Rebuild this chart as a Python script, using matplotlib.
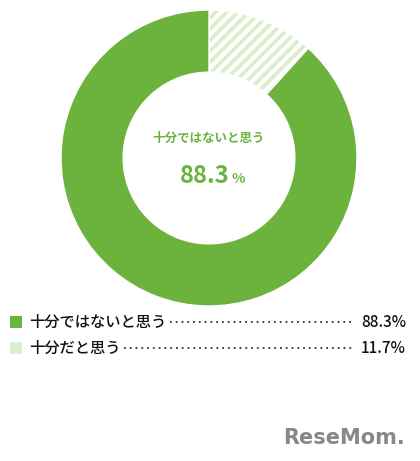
import matplotlib
matplotlib.use("Agg")
import matplotlib.pyplot as plt
from matplotlib.patches import Rectangle

plt.rcParams['font.family'] = ['Noto Sans CJK JP', 'DejaVu Sans']
plt.rcParams['hatch.color'] = 'white'
plt.rcParams['hatch.linewidth'] = 3

labels = ["十分ではないと思う", "十分だと思う"]
values = [88.3, 11.7]
value_labels = ["88.3%", "11.7%"]

green = "#6cb33e"
light = "#dcedcb"

fig = plt.figure(figsize=(4.2, 4.61), dpi=100)
ax = fig.add_axes([61/420, 1-306/461, 296/420, 296/461])
wedges, _ = ax.pie([values[1], values[0]], startangle=90, counterclock=False,
                   colors=[light, green], radius=1,
                   wedgeprops=dict(width=0.42, edgecolor="white", linewidth=1))
wedges[0].set_hatch("///")
ax.set_xlim(-1, 1)
ax.set_ylim(-1, 1)
ax.set_aspect("equal")
ax.text(0, 0.13, labels[0], ha="center", va="center", fontsize=9, color=green, fontweight="bold")
ax.text(0.14, -0.12, "88.3", ha="right", va="center", fontsize=17, color=green, fontweight="bold")
ax.text(0.15, -0.14, "%", ha="left", va="center", fontsize=10, color=green, fontweight="bold")

rows_y = [1-322/461, 1-348/461]
for i, (lab, vl) in enumerate(zip(labels, value_labels)):
    y = rows_y[i]
    r = Rectangle((10/420, y-6/461), 12/420, 12/461, transform=fig.transFigure,
                  facecolor=[green, light][i], edgecolor="none", hatch="///" if i else None)
    fig.patches.append(r)
    t = fig.text(29/420, y, lab, ha="left", va="center", fontsize=11, color="#111111", fontweight="medium")
    fig.text(406/420, y, vl, ha="right", va="center", fontsize=11, color="#111111", fontweight="medium")
    fig.canvas.draw()
    bb = t.get_window_extent()
    x0 = bb.x1/420 + 0.008
    fig.lines.append(plt.Line2D([x0, 352/420], [y, y], transform=fig.transFigure,
                                linestyle=(0, (1, 2.2)), color="#333333", linewidth=1.3))

fig.text(405/420, 1-438/461, "ReseMom.", ha="right", va="center", fontsize=15,
         color="#888888", fontweight="bold", family=["DejaVu Sans"])
fig.savefig("out.png", dpi=100, facecolor="white")
